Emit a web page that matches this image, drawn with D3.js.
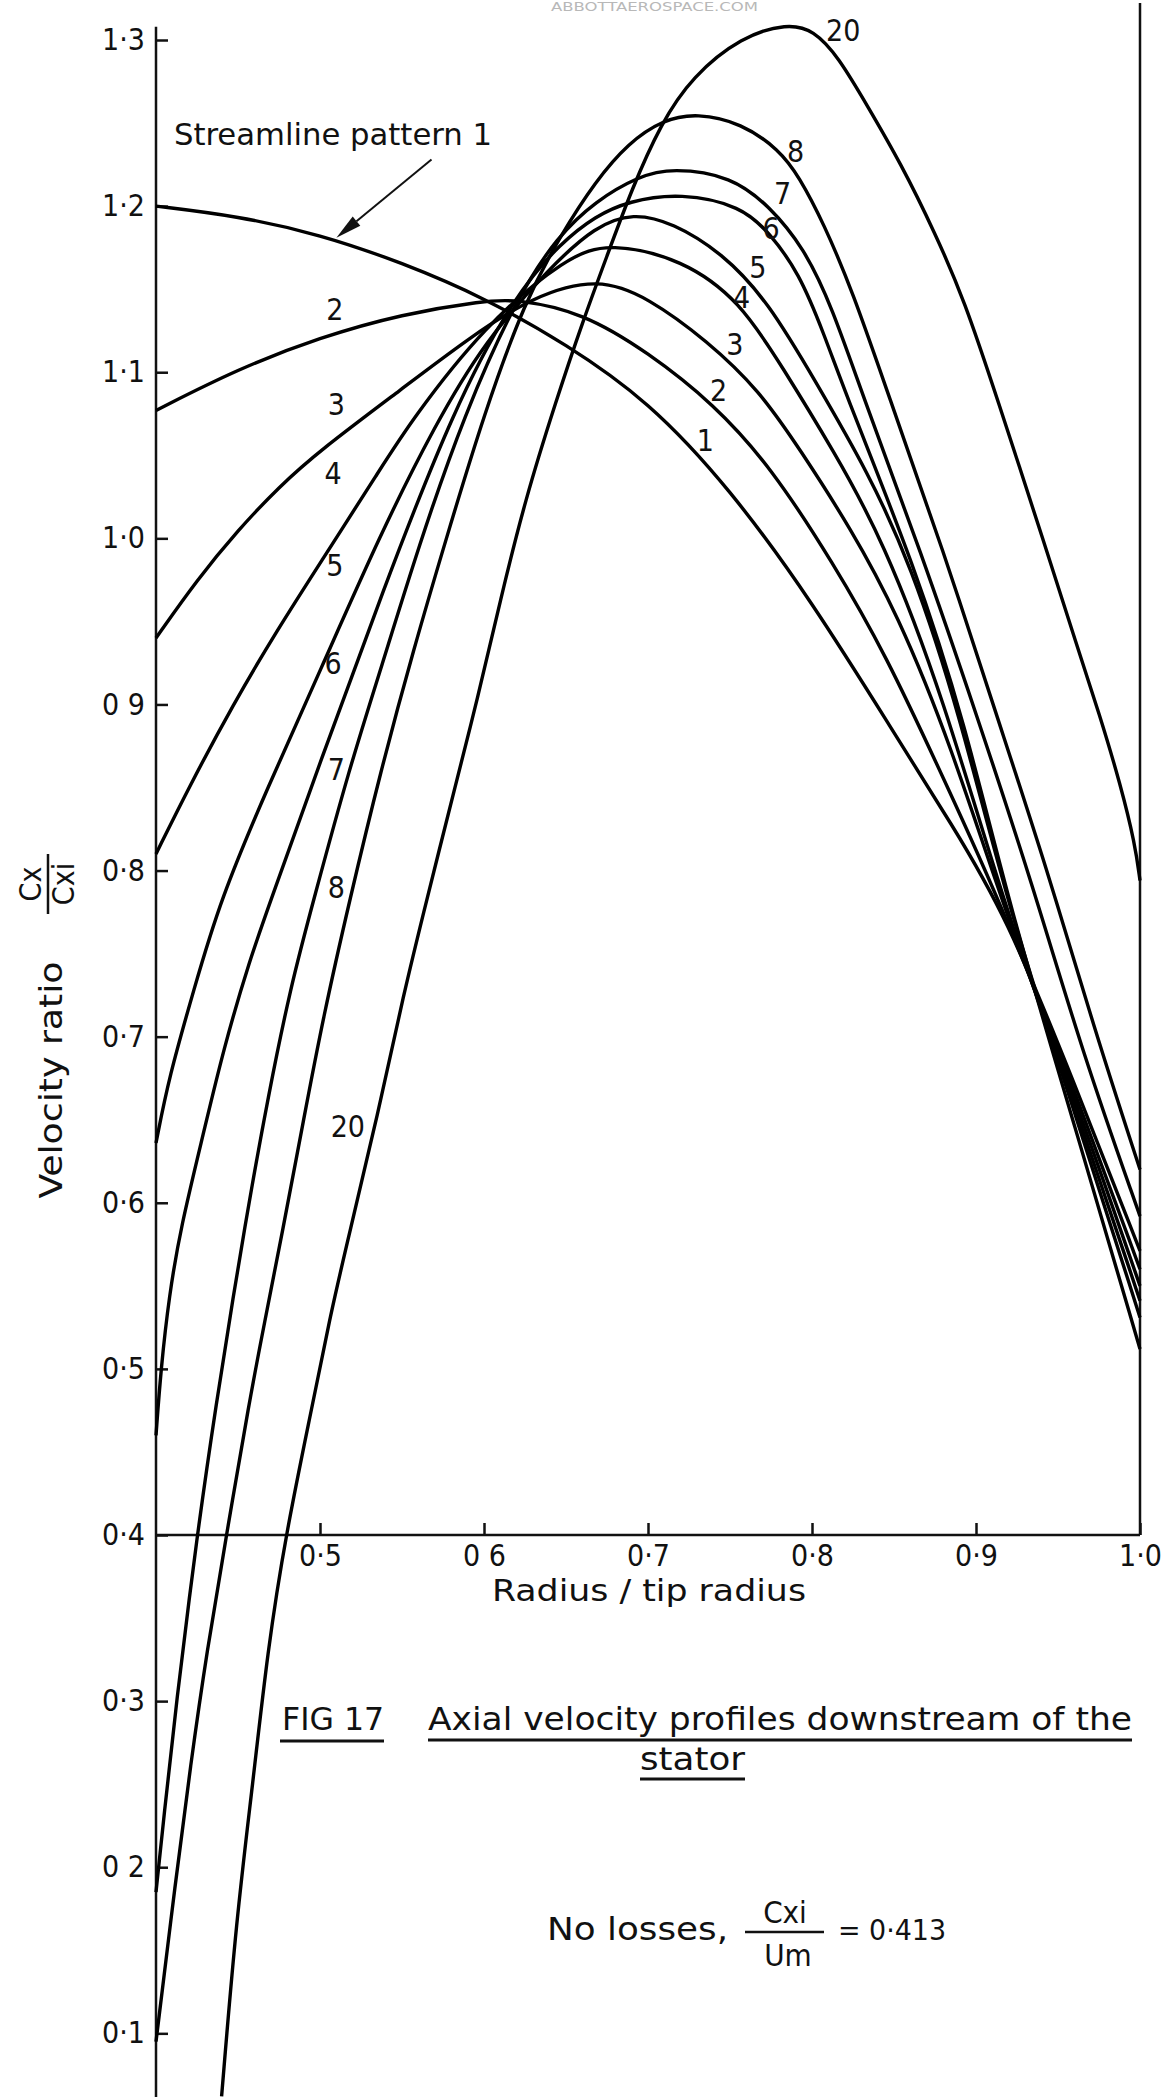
<!DOCTYPE html>
<html>
<head>
<meta charset="utf-8">
<script src="https://cdn.jsdelivr.net/npm/d3@7"></script>
<style>
    body { margin: 0; background: #fff; }
    #chart-area { width: 1163px; height: 2097px; }
    text {
        font-family: "DejaVu Sans Condensed", "Liberation Sans Narrow", "DejaVu Sans", sans-serif;
        font-stretch: condensed;
        fill: #111;
    }
</style>
</head>
<body>
<div id="chart-area"></div>
<script>
// Cx/Cxi against radius / tip radius, one list per streamline pattern
let pattern1 = [[0.40,1.200],[0.45,1.194],[0.50,1.183],[0.55,1.166],[0.60,1.145],[0.65,1.117],[0.70,1.083],[0.75,1.030],[0.80,0.962],[0.85,0.883],[0.885,0.828],[0.918,0.774],[0.96,0.672],[1.00,0.571]];
let pattern2 = [[0.40,1.077],[0.45,1.102],[0.50,1.121],[0.55,1.135],[0.60,1.143],[0.62,1.144],[0.66,1.136],[0.70,1.112],[0.74,1.081],[0.775,1.043],[0.813,0.985],[0.845,0.930],[0.88,0.856],[0.918,0.774],[0.96,0.668],[1.00,0.560]];
let pattern3 = [[0.40,0.940],[0.425,0.975],[0.45,1.005],[0.475,1.031],[0.50,1.053],[0.55,1.090],[0.59,1.120],[0.63,1.146],[0.67,1.157],[0.70,1.145],[0.736,1.119],[0.768,1.089],[0.793,1.053],[0.823,1.007],[0.852,0.955],[0.885,0.875],[0.918,0.774],[0.96,0.664],[1.00,0.550]];
let pattern4 = [[0.40,0.810],[0.42,0.850],[0.447,0.900],[0.474,0.945],[0.50,0.985],[0.537,1.042],[0.555,1.070],[0.60,1.128],[0.651,1.170],[0.677,1.178],[0.721,1.168],[0.756,1.143],[0.782,1.103],[0.813,1.053],[0.843,1.000],[0.88,0.905],[0.918,0.776],[0.96,0.660],[1.00,0.541]];
let pattern5 = [[0.40,0.636],[0.408,0.676],[0.423,0.728],[0.439,0.782],[0.468,0.850],[0.50,0.920],[0.537,1.003],[0.570,1.068],[0.60,1.118],[0.64,1.163],[0.668,1.188],[0.691,1.196],[0.715,1.190],[0.745,1.172],[0.773,1.143],[0.803,1.093],[0.834,1.040],[0.86,0.985],[0.89,0.895],[0.920,0.776],[0.96,0.655],[1.00,0.531]];
let pattern6 = [[0.40,0.460],[0.403,0.500],[0.408,0.544],[0.415,0.585],[0.429,0.642],[0.441,0.692],[0.457,0.746],[0.470,0.782],[0.50,0.865],[0.537,0.965],[0.582,1.080],[0.62,1.148],[0.647,1.178],[0.668,1.194],[0.688,1.203],[0.72,1.208],[0.757,1.200],[0.774,1.184],[0.792,1.160],[0.807,1.124],[0.822,1.083],[0.862,0.985],[0.893,0.890],[0.921,0.776],[0.96,0.647],[1.00,0.512]];
let pattern7 = [[0.40,0.185],[0.405,0.232],[0.412,0.296],[0.425,0.400],[0.437,0.481],[0.447,0.543],[0.457,0.602],[0.468,0.662],[0.482,0.730],[0.496,0.782],[0.518,0.862],[0.537,0.921],[0.560,0.995],[0.588,1.075],[0.62,1.145],[0.645,1.182],[0.668,1.203],[0.694,1.218],[0.715,1.223],[0.751,1.218],[0.774,1.200],[0.795,1.175],[0.812,1.140],[0.832,1.083],[0.866,0.993],[0.90,0.895],[0.935,0.790],[0.965,0.690],[1.00,0.592]];
let pattern8 = [[0.40,0.095],[0.412,0.192],[0.421,0.261],[0.431,0.330],[0.443,0.400],[0.457,0.481],[0.466,0.527],[0.477,0.582],[0.490,0.650],[0.502,0.712],[0.518,0.782],[0.537,0.860],[0.557,0.933],[0.577,1.000],[0.600,1.075],[0.625,1.143],[0.647,1.183],[0.668,1.215],[0.688,1.238],[0.709,1.252],[0.730,1.256],[0.757,1.250],[0.780,1.234],[0.792,1.218],[0.807,1.190],[0.825,1.148],[0.846,1.088],[0.880,0.993],[0.912,0.895],[0.943,0.802],[0.972,0.705],[1.00,0.620]];
let pattern20 = [[0.440,0.062],[0.449,0.169],[0.459,0.250],[0.468,0.330],[0.479,0.400],[0.496,0.481],[0.506,0.531],[0.518,0.582],[0.535,0.652],[0.551,0.726],[0.565,0.782],[0.583,0.853],[0.596,0.903],[0.610,0.963],[0.625,1.023],[0.644,1.083],[0.660,1.130],[0.675,1.170],[0.690,1.210],[0.708,1.250],[0.727,1.278],[0.757,1.302],[0.785,1.310],[0.801,1.306],[0.816,1.290],[0.834,1.260],[0.854,1.226],[0.875,1.184],[0.893,1.143],[0.912,1.087],[0.943,0.993],[0.959,0.943],[0.976,0.892],[0.988,0.852],[0.997,0.816],[1.00,0.794]];

let yTickValues = [0.1, 0.2, 0.3, 0.4, 0.5, 0.6, 0.7, 0.8, 0.9, 1.0, 1.1, 1.2, 1.3];
let yTickLabels = ["0·1", "0 2", "0·3", "0·4", "0·5", "0·6", "0·7", "0·8", "0 9", "1·0", "1·1", "1·2", "1·3"];
let xTickValues = [0.5, 0.6, 0.7, 0.8, 0.9, 1.0];
let xTickLabels = ["0·5", "0 6", "0·7", "0·8", "0·9", "1·0"];

// numbers written next to the curves: [text, radius, Cx/Cxi]
let curveLabels = [
    ["2", 0.509, 1.138], ["3", 0.510, 1.081], ["4", 0.508, 1.039], ["5", 0.509, 0.984],
    ["6", 0.508, 0.925], ["7", 0.510, 0.861], ["8", 0.510, 0.790], ["20", 0.517, 0.646],
    ["20", 0.819, 1.306], ["8", 0.790, 1.233], ["7", 0.782, 1.208], ["6", 0.775, 1.187],
    ["5", 0.767, 1.163], ["4", 0.757, 1.145], ["3", 0.753, 1.117], ["2", 0.743, 1.089],
    ["1", 0.735, 1.059]
];

// arrow for "Streamline pattern 1": tail then head, in data units
let arrowTail = [0.568, 1.228];
let arrowHead = [0.510, 1.181];

class ProfileChart {
    constructor(parentElement, series) {
        this.parentElement = parentElement;
        this.series = series;
        this.initVis();
    }

    initVis() {
        let vis = this;

        vis.width = 1163;
        vis.height = 2097;

        vis.svg = d3.select(`#${vis.parentElement}`).append("svg")
            .attr("width", vis.width)
            .attr("height", vis.height)
            .style("background", "#fff");

        vis.x = d3.scaleLinear().domain([0.4, 1.0]).range([156, 1140]);
        vis.y = d3.scaleLinear().domain([0.4, 1.3]).range([1535, 40]);

        vis.xAxis = d3.axisBottom(vis.x)
            .tickValues(xTickValues)
            .tickFormat((d, i) => xTickLabels[i])
            .tickSize(-12)
            .tickSizeOuter(0)
            .tickPadding(10);

        vis.yAxis = d3.axisLeft(vis.y)
            .tickValues(yTickValues)
            .tickFormat((d, i) => yTickLabels[i])
            .tickSize(-12)
            .tickSizeOuter(0)
            .tickPadding(11);

        vis.svg.append("g").attr("class", "x-axis").attr("transform", `translate(0, ${vis.y(0.4)})`);
        vis.svg.append("g").attr("class", "y-axis").attr("transform", `translate(${vis.x(0.4)}, 0)`);

        vis.line = d3.line()
            .x(d => vis.x(d[0]))
            .y(d => vis.y(d[1]))
            .curve(d3.curveBasis);

        vis.updateVis();
    }

    updateVis() {
        let vis = this;

        vis.svg.select(".x-axis").call(vis.xAxis)
            .call(g => g.select(".domain").remove());
        vis.svg.select(".y-axis").call(vis.yAxis)
            .call(g => g.select(".domain").remove());

        vis.svg.selectAll(".tick line").attr("stroke", "#111").attr("stroke-width", 2.5);
        vis.svg.selectAll(".tick text")
            .attr("font-size", 30)
            .attr("font-family", null);

        // frame: y axis runs off the bottom, x axis at 0.4, closing line at r = 1.0
        vis.svg.append("line")
            .attr("x1", vis.x(0.4)).attr("x2", vis.x(0.4))
            .attr("y1", vis.y(1.308)).attr("y2", vis.height)
            .attr("stroke", "#111").attr("stroke-width", 2.5);
        vis.svg.append("line")
            .attr("x1", vis.x(0.4)).attr("x2", vis.x(1.0))
            .attr("y1", vis.y(0.4)).attr("y2", vis.y(0.4))
            .attr("stroke", "#111").attr("stroke-width", 2.5);
        vis.svg.append("line")
            .attr("x1", vis.x(1.0)).attr("x2", vis.x(1.0))
            .attr("y1", 3).attr("y2", vis.y(0.4))
            .attr("stroke", "#111").attr("stroke-width", 2.5);

        vis.svg.selectAll(".profile")
            .data(vis.series)
            .enter()
            .append("path")
            .attr("class", "profile")
            .attr("d", d => vis.line(d.points))
            .attr("fill", "none")
            .attr("stroke", "#000")
            .attr("stroke-width", 3.4)
            .attr("stroke-linejoin", "round");

        vis.svg.selectAll(".curve-label")
            .data(curveLabels)
            .enter()
            .append("text")
            .attr("class", "curve-label")
            .attr("x", d => vis.x(d[1]))
            .attr("y", d => vis.y(d[2]))
            .attr("dy", "0.36em")
            .attr("text-anchor", "middle")
            .attr("font-size", 30)
            .text(d => d[0]);

        // annotation with arrow
        vis.svg.append("text")
            .attr("x", 174).attr("y", 145)
            .attr("font-size", 31)
            .attr("textLength", 318).attr("lengthAdjust", "spacingAndGlyphs")
            .text("Streamline  pattern  1");

        let hx = vis.x(arrowHead[0]), hy = vis.y(arrowHead[1]);
        let tx = vis.x(arrowTail[0]), ty = vis.y(arrowTail[1]);
        let ang = Math.atan2(hy - ty, hx - tx);
        let len = 26, half = 6;
        let bx = hx - len * Math.cos(ang), by = hy - len * Math.sin(ang);
        vis.svg.append("line")
            .attr("x1", tx).attr("y1", ty).attr("x2", bx).attr("y2", by)
            .attr("stroke", "#111").attr("stroke-width", 2);
        vis.svg.append("path")
            .attr("d", `M${hx},${hy} L${bx + half * Math.sin(ang)},${by - half * Math.cos(ang)} L${bx - half * Math.sin(ang)},${by + half * Math.cos(ang)} Z`)
            .attr("fill", "#111");

        // axis titles
        vis.svg.append("text")
            .attr("x", 649).attr("y", 1601)
            .attr("text-anchor", "middle")
            .attr("font-size", 31)
            .attr("textLength", 314).attr("lengthAdjust", "spacingAndGlyphs")
            .text("Radius / tip radius");

        vis.svg.append("text")
            .attr("transform", "translate(62, 1080) rotate(-90)")
            .attr("text-anchor", "middle")
            .attr("font-size", 32)
            .attr("textLength", 237).attr("lengthAdjust", "spacingAndGlyphs")
            .text("Velocity ratio");

        let frac = vis.svg.append("g").attr("transform", "translate(48, 884) rotate(-90)");
        frac.append("text").attr("x", 0).attr("y", -7).attr("text-anchor", "middle")
            .attr("font-size", 30).text("Cx");
        frac.append("line").attr("x1", -30).attr("x2", 30).attr("y1", 0).attr("y2", 0)
            .attr("stroke", "#111").attr("stroke-width", 2.5);
        frac.append("text").attr("x", 0).attr("y", 26).attr("text-anchor", "middle")
            .attr("font-size", 30).text("Cxi");

        // caption
        vis.svg.append("text")
            .attr("x", 282).attr("y", 1730)
            .attr("font-size", 32)
            .attr("textLength", 102).attr("lengthAdjust", "spacingAndGlyphs")
            .text("FIG 17");
        vis.svg.append("text")
            .attr("x", 428).attr("y", 1730)
            .attr("font-size", 32)
            .attr("textLength", 704).attr("lengthAdjust", "spacingAndGlyphs")
            .text("Axial  velocity profiles  downstream  of  the");
        vis.svg.append("text")
            .attr("x", 640).attr("y", 1770)
            .attr("font-size", 32)
            .attr("textLength", 105).attr("lengthAdjust", "spacingAndGlyphs")
            .text("stator");

        let underlines = [[280, 384, 1741], [428, 1132, 1740], [640, 745, 1779]];
        vis.svg.selectAll(".underline")
            .data(underlines)
            .enter()
            .append("line")
            .attr("class", "underline")
            .attr("x1", d => d[0]).attr("x2", d => d[1])
            .attr("y1", d => d[2]).attr("y2", d => d[2])
            .attr("stroke", "#111").attr("stroke-width", 3);

        vis.svg.append("text")
            .attr("x", 547).attr("y", 1940)
            .attr("font-size", 32)
            .attr("textLength", 181).attr("lengthAdjust", "spacingAndGlyphs")
            .text("No  losses,");
        vis.svg.append("text")
            .attr("x", 785).attr("y", 1923)
            .attr("text-anchor", "middle")
            .attr("font-size", 31)
            .text("Cxi");
        vis.svg.append("line")
            .attr("x1", 745).attr("x2", 824).attr("y1", 1932).attr("y2", 1932)
            .attr("stroke", "#111").attr("stroke-width", 2.5);
        vis.svg.append("text")
            .attr("x", 788).attr("y", 1966)
            .attr("text-anchor", "middle")
            .attr("font-size", 31)
            .text("Um");
        vis.svg.append("text")
            .attr("x", 838).attr("y", 1940)
            .attr("font-size", 28)
            .attr("textLength", 108).attr("lengthAdjust", "spacingAndGlyphs")
            .text("= 0·413");

        // faint source watermark at the top edge
        vis.svg.append("text")
            .attr("x", 551).attr("y", 11)
            .attr("font-size", 12)
            .attr("textLength", 207).attr("lengthAdjust", "spacingAndGlyphs")
            .style("fill", "#b8b8b8")
            .text("ABBOTTAEROSPACE.COM");
    }
}

let series = [
    { name: "1", points: pattern1 },
    { name: "2", points: pattern2 },
    { name: "3", points: pattern3 },
    { name: "4", points: pattern4 },
    { name: "5", points: pattern5 },
    { name: "6", points: pattern6 },
    { name: "7", points: pattern7 },
    { name: "8", points: pattern8 },
    { name: "20", points: pattern20 }
];

let chart = new ProfileChart("chart-area", series);
</script>
</body>
</html>
